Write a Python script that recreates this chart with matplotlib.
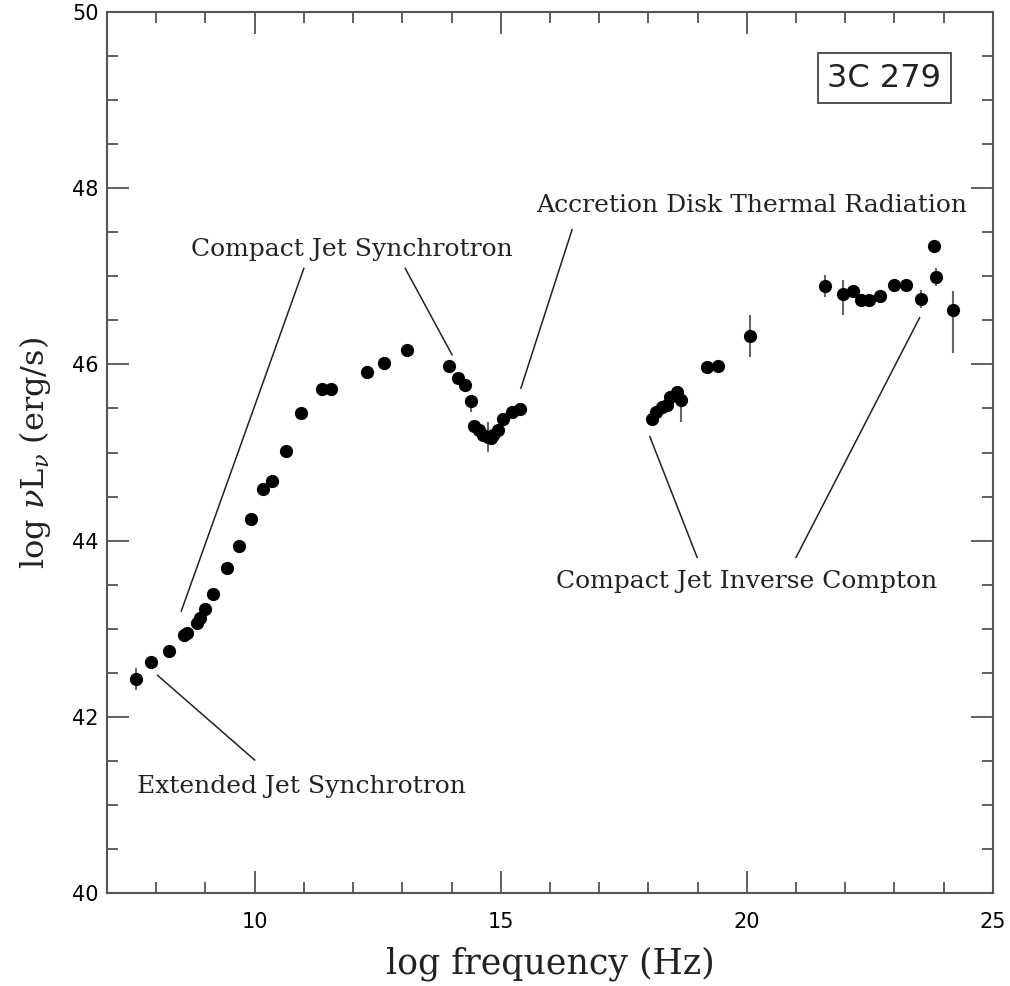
import numpy as np
import matplotlib
matplotlib.use('Agg')
import matplotlib.pyplot as plt
from matplotlib.ticker import MultipleLocator

# Datos SED de 3C 279
log_freq = [7.58, 7.90, 8.26, 8.56, 8.63, 8.82, 8.89, 8.99, 9.15, 9.44,
            9.68, 9.92, 10.17, 10.36, 10.63, 10.94, 11.36, 11.55, 12.28, 12.63,
            13.10, 13.95, 14.14, 14.27, 14.40, 14.45, 14.55, 14.64, 14.74, 14.80,
            14.85, 14.95, 15.04, 15.23, 15.40,
            18.08, 18.16, 18.27, 18.37, 18.43, 18.58, 18.66, 19.20, 19.42, 20.06,
            21.59, 21.96, 22.16, 22.31, 22.48, 22.71, 22.98, 23.24, 23.54, 23.81,
            23.84, 24.19]
log_nuL = [42.43, 42.62, 42.75, 42.93, 42.95, 43.07, 43.12, 43.22, 43.39, 43.69,
           43.94, 44.25, 44.59, 44.68, 45.02, 45.45, 45.72, 45.72, 45.91, 46.02,
           46.16, 45.98, 45.85, 45.77, 45.59, 45.30, 45.26, 45.20, 45.18, 45.17,
           45.20, 45.26, 45.38, 45.46, 45.49,
           45.38, 45.46, 45.52, 45.54, 45.63, 45.69, 45.60, 45.97, 45.98, 46.32,
           46.89, 46.80, 46.83, 46.73, 46.73, 46.78, 46.90, 46.90, 46.74, 47.34,
           46.99, 46.62]
err_low = [0.12, 0, 0, 0, 0, 0, 0, 0, 0, 0,
           0, 0, 0, 0, 0, 0, 0, 0, 0, 0,
           0, 0, 0, 0, 0.13, 0, 0, 0, 0.17, 0,
           0, 0, 0, 0, 0,
           0, 0, 0, 0, 0, 0, 0.25, 0, 0, 0.24,
           0.13, 0.24, 0, 0, 0, 0, 0, 0, 0.10, 0,
           0.10, 0.49]
err_high = [0.12, 0, 0, 0, 0, 0, 0, 0, 0, 0,
            0, 0, 0, 0, 0, 0, 0, 0, 0, 0,
            0, 0, 0, 0, 0.02, 0, 0, 0, 0.17, 0,
            0, 0, 0, 0, 0,
            0, 0, 0, 0, 0, 0, 0.10, 0, 0, 0.24,
            0.13, 0.16, 0, 0, 0, 0, 0, 0, 0.10, 0,
            0.10, 0.21]

# Etiquetas y lineas de las componentes
etiquetas = ['Compact Jet Synchrotron', 'Accretion Disk Thermal Radiation',
             'Extended Jet Synchrotron', 'Compact Jet Inverse Compton']
pos_etiquetas = [(11.97, 47.30), (20.10, 47.80), (10.96, 41.21), (19.99, 43.54)]
lineas = [[(11.00, 47.09), (8.51, 43.20)],
          [(13.06, 47.09), (14.01, 46.11)],
          [(16.45, 47.53), (15.41, 45.73)],
          [(8.03, 42.47), (10.00, 41.51)],
          [(18.03, 45.18), (18.99, 43.81)],
          [(21.00, 43.81), (23.51, 46.53)]]

plt.rcParams['mathtext.fontset'] = 'dejavuserif'

fig = plt.figure(figsize=(10.10, 9.86), dpi=100)
ax = fig.add_axes([0.1059, 0.0943, 0.8772, 0.8935])

ax.errorbar(log_freq, log_nuL, yerr=[err_low, err_high], fmt='none',
            ecolor='#666666', elinewidth=1.5, capsize=0, zorder=2)
ax.plot(log_freq, log_nuL, 'o', color='black', markersize=8.5, zorder=3)

for (x0, y0), (x1, y1) in lineas:
    ax.plot([x0, x1], [y0, y1], color='#222222', lw=1.1, zorder=1)

for txt, (tx, ty) in zip(etiquetas, pos_etiquetas):
    ax.text(tx, ty, txt, ha='center', va='center', fontsize=18,
            family='DejaVu Serif', color='#222222')

ax.text(22.79, 49.25, '3C 279', ha='center', va='center', fontsize=23,
        family='DejaVu Sans', color='#222222',
        bbox=dict(boxstyle='square,pad=0.3', fc='white', ec='#444444', lw=1.3))

ax.set_xlim(7, 25)
ax.set_ylim(40, 50)
ax.xaxis.set_major_locator(MultipleLocator(5))
ax.xaxis.set_minor_locator(MultipleLocator(1))
ax.yaxis.set_major_locator(MultipleLocator(2))
ax.yaxis.set_minor_locator(MultipleLocator(0.5))
ax.tick_params(which='both', direction='in', top=True, right=True,
               color='#444444', width=1.2)
ax.tick_params(which='major', length=16, labelsize=15)
ax.tick_params(axis='x', which='major', pad=14)
ax.tick_params(axis='y', which='major', pad=6)
ax.tick_params(which='minor', length=8)
for s in ax.spines.values():
    s.set_color('#555555')
    s.set_linewidth(1.5)

ax.set_xlabel('log frequency (Hz)', fontsize=25, family='DejaVu Serif',
              labelpad=10, color='#222222')
ax.set_ylabel(r'log $\nu$L$_\nu$ (erg/s)', fontsize=23, family='DejaVu Serif',
              labelpad=14, color='#222222')

fig.savefig('out.png', dpi=100)
